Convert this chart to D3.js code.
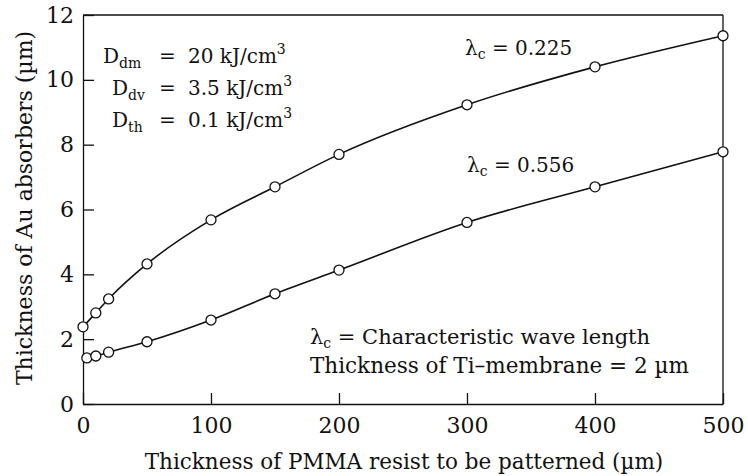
<!doctype html>
<html>
<head>
<style>
    body { margin: 0; background: #fff; }
    text { font-family: "DejaVu Serif", "Liberation Serif", serif; fill: #111; }
    .axis path, .axis line { stroke: #111; stroke-width: 1.3; }
    .axis text { font-size: 22px; font-family: "DejaVu Serif", serif; fill: #111; }
</style>
</head>
<body>
<div id="chart"></div>
<script src="https://d3js.org/d3.v7.min.js"></script>
<script>

// data
var xTicks = [0, 100, 200, 300, 400, 500];
var yTicks = [0, 2, 4, 6, 8, 10, 12];

var thickA = [0, 10, 20, 50, 100, 150, 200, 300, 400, 500];
var auA = [2.38, 2.81, 3.24, 4.32, 5.68, 6.7, 7.7, 9.23, 10.4, 11.36];   // lambda_c = 0.225

var thickB = [3, 10, 20, 50, 100, 150, 200, 300, 400, 500];
var auB = [1.42, 1.48, 1.6, 1.92, 2.59, 3.4, 4.13, 5.6, 6.7, 7.78];      // lambda_c = 0.556

var W = 748, H = 476;
var margin = {top: 15, right: 25, bottom: 72, left: 83};
var width = W - margin.left - margin.right,
    height = H - margin.top - margin.bottom;

var svg = d3.select("#chart").append("svg")
    .attr("width", W)
    .attr("height", H);

var g = svg.append("g")
    .attr("transform", "translate(" + margin.left + "," + margin.top + ")");

var x = d3.scaleLinear().domain([0, 500]).range([0, width]);
var y = d3.scaleLinear().domain([0, 12]).range([height, 0]);

// axes, ticks point inward
g.append("g")
    .attr("class", "axis")
    .attr("transform", "translate(0," + height + ")")
    .call(d3.axisBottom(x).tickValues(xTicks).tickSizeInner(-11).tickSizeOuter(0).tickPadding(13));

g.append("g")
    .attr("class", "axis")
    .call(d3.axisLeft(y).tickValues(yTicks).tickSizeInner(-11).tickSizeOuter(0).tickPadding(9));

// top and right frame
g.append("line").attr("x1", 0).attr("x2", width).attr("y1", 0).attr("y2", 0)
    .attr("stroke", "#111").attr("stroke-width", 1.3);
g.append("line").attr("x1", width).attr("x2", width).attr("y1", 0).attr("y2", height)
    .attr("stroke", "#111").attr("stroke-width", 1.3);

// curves
var series = [
    {xs: thickA, ys: auA},
    {xs: thickB, ys: auB}
];

var line = d3.line()
    .x(function(d) { return x(d[0]); })
    .y(function(d) { return y(d[1]); })
    .curve(d3.curveMonotoneX);

series.forEach(function(s) {
    var pts = s.xs.map(function(v, i) { return [v, s.ys[i]]; });
    g.append("path")
        .datum(pts)
        .attr("fill", "none")
        .attr("stroke", "#111")
        .attr("stroke-width", 1.6)
        .attr("d", line);
    g.selectAll(null)
        .data(pts)
        .enter().append("circle")
        .attr("cx", function(d) { return x(d[0]); })
        .attr("cy", function(d) { return y(d[1]); })
        .attr("r", 5)
        .attr("fill", "#fff")
        .attr("stroke", "#111")
        .attr("stroke-width", 1.3);
});

// axis titles
svg.append("text")
    .attr("transform", "translate(32,208) rotate(-90)")
    .attr("text-anchor", "middle")
    .attr("font-size", "22px")
    .text("Thickness of Au absorbers (\u00b5m)");

svg.append("text")
    .attr("x", 404)
    .attr("y", 469)
    .attr("text-anchor", "middle")
    .attr("font-size", "21.5px")
    .text("Thickness of PMMA resist to be patterned (\u00b5m)");

// dose annotations
var doses = [
    {sub: "dm", val: "20", y: 63},
    {sub: "dv", val: "3.5", y: 95},
    {sub: "th", val: "0.1", y: 127}
];
doses.forEach(function(d) {
    var t = svg.append("text").attr("y", d.y).attr("font-size", "20px");
    t.append("tspan").attr("x", d.sub === "dm" ? 103 : 112).text("D");
    t.append("tspan").attr("font-size", "14px").attr("dy", 5).text(d.sub);
    var t2 = svg.append("text").attr("y", d.y).attr("font-size", "20px");
    t2.append("tspan").attr("x", 159).text("=");
    t2.append("tspan").attr("x", 188).text(d.val + " kJ/cm");
    t2.append("tspan").attr("font-size", "14px").attr("dy", -9).text("3");
});

// lambda labels
function lambdaLabel(xp, yp, rest, fs) {
    var t = svg.append("text").attr("x", xp).attr("y", yp).attr("font-size", fs + "px");
    t.append("tspan").text("\u03bb");
    t.append("tspan").attr("font-size", "14px").attr("dy", 4).text("c");
    t.append("tspan").attr("dy", -4).text(" " + rest);
}
lambdaLabel(465, 55, "= 0.225", 20);
lambdaLabel(467, 172, "= 0.556", 20);
lambdaLabel(310, 344, "= Characteristic wave length", 21);

svg.append("text")
    .attr("x", 310)
    .attr("y", 373)
    .attr("font-size", "21.5px")
    .text("Thickness of Ti\u2013membrane = 2 \u00b5m");

</script>
</body>
</html>
